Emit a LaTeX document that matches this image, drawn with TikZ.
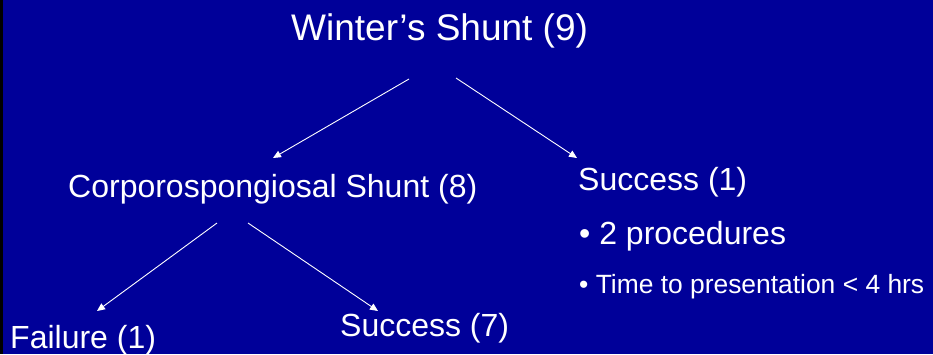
\documentclass[tikz,border=0pt]{standalone}
\usepackage{fontspec}
\setmainfont{Liberation Sans}
\usetikzlibrary{arrows.meta}
\definecolor{bgblue}{RGB}{0,0,153}
\begin{document}
\begin{tikzpicture}[x=1pt,y=-1pt,
  lbl/.style={anchor=base west,inner sep=0pt,text=white},
  big/.style={font=\fontsize{37}{40}\selectfont},
  mid/.style={font=\fontsize{32}{36}\selectfont},
  small/.style={font=\fontsize{26.4}{30}\selectfont},
  conn/.style={draw=white,line width=0.9pt,-{Triangle[length=8pt,width=7pt]}}]
\useasboundingbox (0,0) rectangle (933,354);
\fill[bgblue] (0,0) rectangle (933,354);
\fill[black] (0,0) rectangle (3,354);
\node[lbl,big] (root) at (291,40) {Winter’s Shunt (9)};
\node[lbl,mid] (cs) at (68,197) {Corporospongiosal Shunt (8)};
\node[lbl,mid] (s1) at (578,190) {Success (1)};
\node[lbl,mid] (b1) at (579,244) {• 2 procedures};
\node[lbl,small] (b2) at (579,293) {• Time to presentation < 4 hrs};
\node[lbl,mid] (f1) at (10,348) {Failure (1)};
\node[lbl,mid] (s7) at (340,336) {Success (7)};
\coordinate (r1) at (409,79);
\coordinate (r2) at (456,78);
\coordinate (c1) at (217,223);
\coordinate (c2) at (248,223);
\coordinate (csin) at (273,158);
\coordinate (s1in) at (577,158);
\coordinate (f1in) at (97,311);
\coordinate (s7in) at (378,311);
\draw[conn] (r1) -- (csin);
\draw[conn] (r2) -- (s1in);
\draw[conn] (c1) -- (f1in);
\draw[conn] (c2) -- (s7in);
\end{tikzpicture}
\end{document}
